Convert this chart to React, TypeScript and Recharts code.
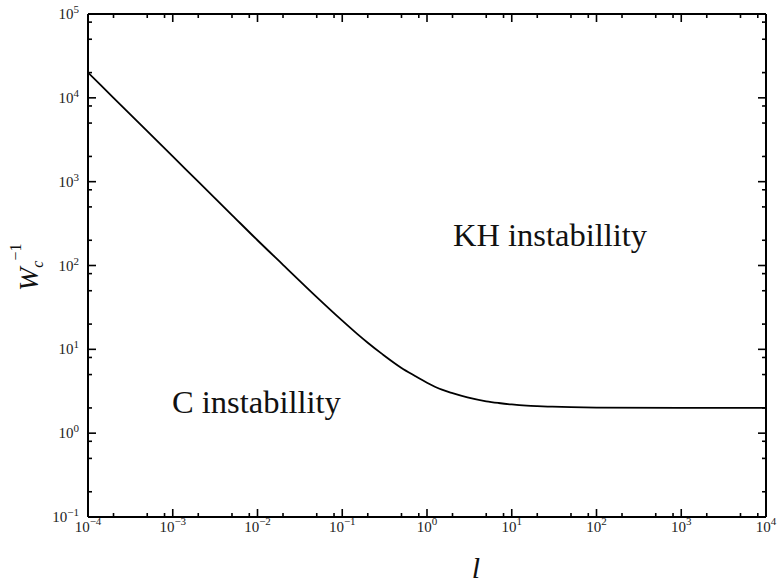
import React from "react";
import { LineChart, Line, XAxis, YAxis } from "recharts";

// critical Weber number (inverse) vs l
const lValues = [1e-4, 2e-4, 5e-4, 1e-3, 2e-3, 5e-3, 1e-2, 2e-2, 5e-2, 0.1, 0.15, 0.2, 0.3, 0.5, 0.7, 1, 1.5, 2, 3, 5, 7, 10, 15, 20, 30, 50, 100, 1000, 10000];
const wInv = [20000, 10000, 4000, 2000, 1000, 400, 200, 102, 42, 22, 15.3, 12, 8.7, 6, 4.9, 4.0, 3.3, 3.0, 2.67, 2.4, 2.29, 2.2, 2.13, 2.1, 2.07, 2.04, 2.02, 2.0, 2.0];

const xMajor = [-4, -3, -2, -1, 0, 1, 2, 3, 4];
const yMajor = [-1, 0, 1, 2, 3, 4, 5];
const minorSteps = [2, 5, 8];

const data = lValues.map((l, i) => ({ l, w: wInv[i] }));

const makeTicks = (exps: number[]) => {
  const out: number[] = [];
  exps.forEach((e, i) => {
    out.push(Math.pow(10, e));
    if (i < exps.length - 1) minorSteps.forEach((m) => out.push(m * Math.pow(10, e)));
  });
  return out;
};
const xTicks = makeTicks(xMajor);
const yTicks = makeTicks(yMajor);

const expOf = (v: number) => {
  const e = Math.log10(v);
  return Math.abs(e - Math.round(e)) < 1e-6 ? Math.round(e) : null;
};
const fmtExp = (e: number) => (e < 0 ? "\u2212" + Math.abs(e) : String(e));

const FONT = "Liberation Serif, Times New Roman, serif";
const MAJ = 8;
const MIN = 4;

const BottomTick = (props: any) => {
  const { x, y, payload } = props;
  const e = expOf(payload.value);
  return (
    <g>
      <line x1={x} x2={x} y1={y} y2={y - (e !== null ? MAJ : MIN)} stroke="#000" strokeWidth={1.6} />
      {e !== null && (
        <text x={x} y={y + 15} textAnchor="middle" fontFamily={FONT} fontSize={15} fill="#222">
          10<tspan dy={-7} fontSize={11}>{fmtExp(e)}</tspan>
        </text>
      )}
    </g>
  );
};

const TopTick = (props: any) => {
  const { x, y, payload } = props;
  const e = expOf(payload.value);
  return <line x1={x} x2={x} y1={y} y2={y + (e !== null ? MAJ : MIN)} stroke="#000" strokeWidth={1.6} />;
};

const LeftTick = (props: any) => {
  const { x, y, payload } = props;
  const e = expOf(payload.value);
  return (
    <g>
      <line x1={x} x2={x + (e !== null ? MAJ : MIN)} y1={y} y2={y} stroke="#000" strokeWidth={1.6} />
      {e !== null && (
        <text x={x - 9} y={y + 5} textAnchor="end" fontFamily={FONT} fontSize={15} fill="#222">
          10<tspan dy={-6} fontSize={11}>{fmtExp(e)}</tspan>
        </text>
      )}
    </g>
  );
};

const RightTick = (props: any) => {
  const { x, y, payload } = props;
  const e = expOf(payload.value);
  return <line x1={x} x2={x - (e !== null ? MAJ : MIN)} y1={y} y2={y} stroke="#000" strokeWidth={1.6} />;
};

const axisLine = { stroke: "#000", strokeWidth: 2 };

export default function App() {
  return (
    <div style={{ position: "absolute", left: 0, top: 0, width: 778, height: 585, background: "#fff" }}>
      <LineChart width={778} height={585} data={data} margin={{ top: 0, right: 0, bottom: 0, left: 0 }}>
        <XAxis
          dataKey="l"
          type="number"
          scale="log"
          domain={[1e-4, 1e4]}
          allowDataOverflow
          ticks={xTicks}
          interval={0}
          tickSize={0}
          tickMargin={0}
          height={68}
          axisLine={axisLine}
          tickLine={false}
          tick={<BottomTick />}
        />
        <XAxis
          xAxisId="top"
          orientation="top"
          dataKey="l"
          type="number"
          scale="log"
          domain={[1e-4, 1e4]}
          allowDataOverflow
          ticks={xTicks}
          interval={0}
          tickSize={0}
          tickMargin={0}
          height={14}
          axisLine={axisLine}
          tickLine={false}
          tick={<TopTick />}
        />
        <YAxis
          type="number"
          scale="log"
          domain={[0.1, 1e5]}
          allowDataOverflow
          ticks={yTicks}
          interval={0}
          tickSize={0}
          tickMargin={0}
          width={88}
          axisLine={axisLine}
          tickLine={false}
          tick={<LeftTick />}
        />
        <YAxis
          yAxisId="right"
          orientation="right"
          type="number"
          scale="log"
          domain={[0.1, 1e5]}
          allowDataOverflow
          ticks={yTicks}
          interval={0}
          tickSize={0}
          tickMargin={0}
          width={12}
          axisLine={axisLine}
          tickLine={false}
          tick={<RightTick />}
        />
        <Line
          dataKey="w"
          type="monotone"
          stroke="#000"
          strokeWidth={1.8}
          dot={false}
          isAnimationActive={false}
        />
      </LineChart>
      <svg
        width={778}
        height={585}
        style={{ position: "absolute", left: 0, top: 0, pointerEvents: "none" }}
      >
        <text x={453} y={246} fontFamily={FONT} fontSize={32.5} fill="#111">KH instabillity</text>
        <text x={172} y={413} fontFamily={FONT} fontSize={32.5} fill="#111">C instabillity</text>
        <text x={476} y={578} textAnchor="middle" fontFamily={FONT} fontStyle="italic" fontSize={30} fill="#111">l</text>
        <text transform="translate(38,291) rotate(-90)" fontFamily={FONT} fontSize={28} fill="#111">
          <tspan fontStyle="italic">W</tspan>
          <tspan fontStyle="italic" fontSize={16} dy={5}>c</tspan>
          <tspan fontSize={16} dy={-22}>{"\u22121"}</tspan>
        </text>
      </svg>
    </div>
  );
}
